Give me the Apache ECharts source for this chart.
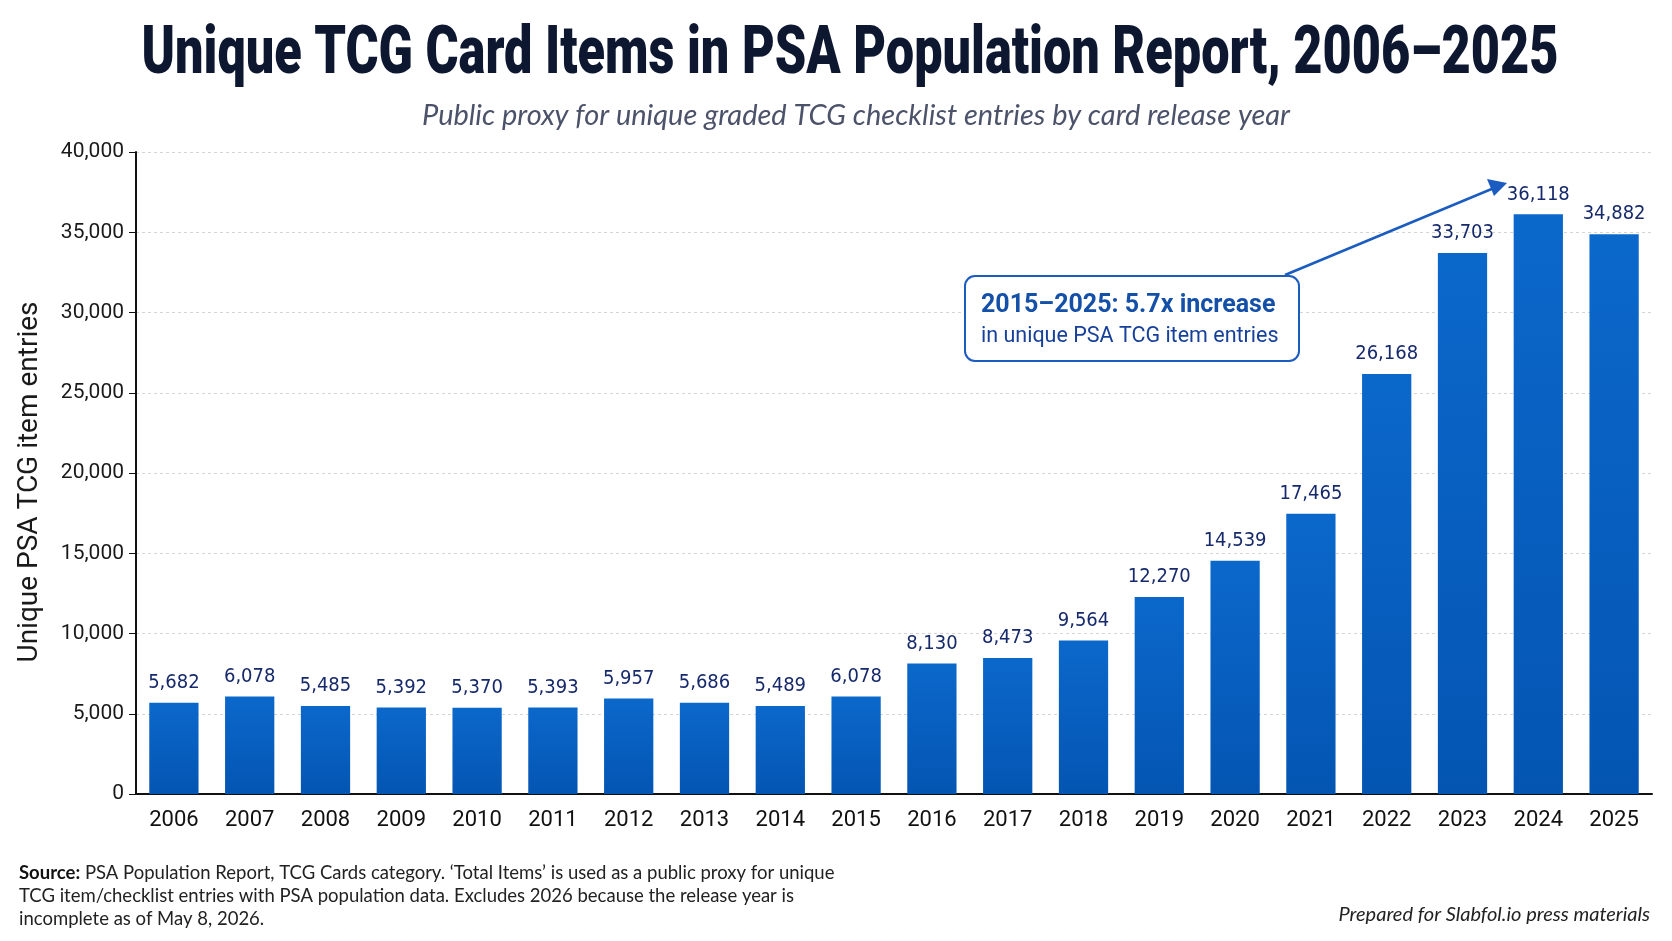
<!DOCTYPE html>
<html>
<head>
<meta charset="utf-8">
<script src="https://cdn.jsdelivr.net/npm/echarts@6/dist/echarts.min.js"></script>
<style>
  html, body { margin: 0; padding: 0; background: #ffffff; }
  #chart { width: 1672px; height: 941px; }
</style>
</head>
<body>
<div id="chart"></div>
<script>
const years = ['2006', '2007', '2008', '2009', '2010', '2011', '2012', '2013', '2014', '2015',
               '2016', '2017', '2018', '2019', '2020', '2021', '2022', '2023', '2024', '2025'];
const uniqueItems = [5682, 6078, 5485, 5392, 5370, 5393, 5957, 5686, 5489, 6078,
                     8130, 8473, 9564, 12270, 14539, 17465, 26168, 33703, 36118, 34882];
const yTicks = { min: 0, max: 40000, interval: 5000 };

const titleText = 'Unique TCG Card Items in PSA Population Report, 2006\u20132025';
const subText = 'Public proxy for unique graded TCG checklist entries by card release year';

const narrow = '"DejaVu Sans Condensed", Roboto, sans-serif';
const fmt = v => v.toLocaleString('en-US');

// the reference title is a heavy condensed face; squeeze Roboto Black to the same width
const titleFont = '900 66px Roboto';
const ctx = document.createElement('canvas').getContext('2d');
ctx.font = titleFont;
const titleScale = 1417 / ctx.measureText(titleText).width;

const chart = echarts.init(document.getElementById('chart'));

chart.setOption({
    backgroundColor: '#ffffff',
    animation: false,
    grid: { left: 136, right: 20, top: 152, bottom: 147 },
    xAxis: {
        type: 'category',
        data: years,
        axisLine: { lineStyle: { color: '#111', width: 2 } },
        axisTick: { show: false },
        axisLabel: { fontFamily: 'Roboto, sans-serif', fontSize: 22, color: '#111', margin: 15 }
    },
    yAxis: {
        type: 'value',
        min: yTicks.min,
        max: yTicks.max,
        interval: yTicks.interval,
        name: 'Unique PSA TCG item entries',
        nameLocation: 'middle',
        nameGap: 92,
        nameTextStyle: { fontFamily: 'Roboto, sans-serif', fontSize: 28, color: '#1a1a1a', padding: [0, 18, 0, 0] },
        axisLine: { show: true, lineStyle: { color: '#111', width: 2 } },
        axisTick: { show: true, length: 7, lineStyle: { color: '#111' } },
        axisLabel: { fontFamily: 'Roboto, sans-serif', fontSize: 21, color: '#1a1a1a', margin: 12, formatter: fmt },
        splitLine: { lineStyle: { color: '#d4d4d4', type: [3, 3] } }
    },
    series: [{
        type: 'bar',
        data: uniqueItems,
        barCategoryGap: '35%',
        itemStyle: {
            color: new echarts.graphic.LinearGradient(0, 0, 0, 1, [
                { offset: 0, color: '#0b68cb' },
                { offset: 1, color: '#0455b2' }
            ])
        },
        label: {
            show: true,
            position: 'top',
            distance: 10,
            fontFamily: narrow,
            fontSize: 20,
            color: '#16296b',
            formatter: p => fmt(p.value)
        }
    }],
    graphic: [
        // title and subtitle
        {
            type: 'text',
            x: 850, y: 56,
            scaleX: titleScale,
            style: { text: titleText, font: titleFont, fill: '#0d1730', align: 'center', verticalAlign: 'middle' }
        },
        {
            type: 'text',
            x: 856, y: 116,
            style: { text: subText, fontFamily: 'Lato, sans-serif', fontStyle: 'italic', fontSize: 29, fill: '#4b5269', align: 'center', verticalAlign: 'middle' }
        },
        // callout box
        {
            type: 'rect',
            left: 964, top: 275,
            shape: { width: 334, height: 85, r: 10 },
            style: { fill: '#ffffff', stroke: '#1a5cc0', lineWidth: 2 },
            z: 10
        },
        {
            type: 'text',
            left: 981, top: 293,
            style: { text: '2015\u20132025: 5.7x increase', fontFamily: 'Roboto, sans-serif', fontWeight: 'bold', fontSize: 25, fill: '#1450a8' },
            z: 11
        },
        {
            type: 'text',
            left: 981, top: 326,
            style: { text: 'in unique PSA TCG item entries', fontFamily: 'Roboto, sans-serif', fontSize: 21.5, fill: '#16409a' },
            z: 11
        },
        // arrow
        {
            type: 'line',
            shape: { x1: 1285, y1: 275, x2: 1494, y2: 188 },
            style: { stroke: '#1a5cc0', lineWidth: 2.5 },
            z: 10
        },
        {
            type: 'polygon',
            shape: { points: [[1507, 183], [1487, 179], [1494, 196]] },
            style: { fill: '#1a5cc0' },
            z: 10
        },
        // footer
        {
            type: 'text',
            left: 19, top: 862,
            style: {
                text: '{b|Source:} PSA Population Report, TCG Cards category. \u2018Total Items\u2019 is used as a public proxy for unique\nTCG item/checklist entries with PSA population data. Excludes 2026 because the release year is\nincomplete as of May 8, 2026.',
                fontFamily: 'Lato, sans-serif',
                fontSize: 18.5,
                lineHeight: 23,
                fill: '#222',
                rich: { b: { fontFamily: 'Lato, sans-serif', fontWeight: 'bold', fontSize: 18.5, fill: '#111' } }
            }
        },
        {
            type: 'text',
            right: 22, top: 905,
            style: { text: 'Prepared for Slabfol.io press materials', fontFamily: 'Lato, sans-serif', fontStyle: 'italic', fontSize: 20, fill: '#222' }
        }
    ]
});
</script>
</body>
</html>
